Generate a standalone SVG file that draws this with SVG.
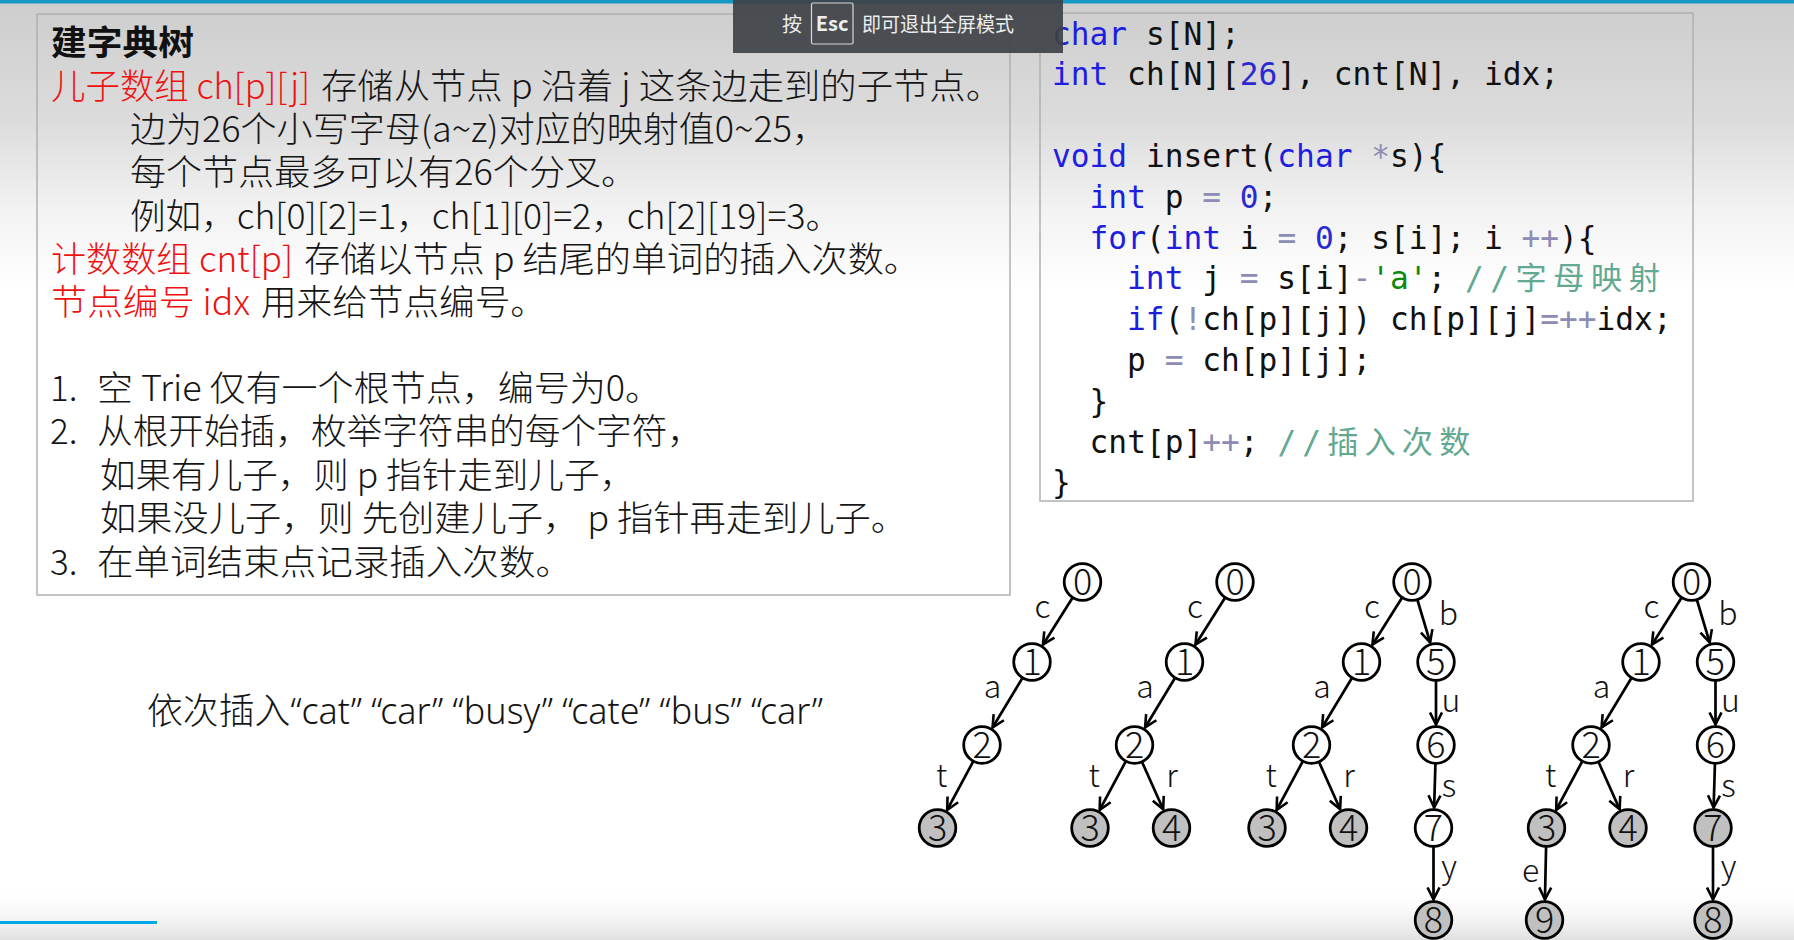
<svg xmlns="http://www.w3.org/2000/svg" width="1794" height="940" viewBox="0 0 1794 940">
<defs>
<linearGradient id="bgTop" x1="0" y1="0" x2="0" y2="290" gradientUnits="userSpaceOnUse">
<stop offset="0" stop-color="#cdcdcd"/><stop offset="0.42" stop-color="#dcdcdc"/><stop offset="0.72" stop-color="#f2f2f2"/><stop offset="1" stop-color="#ffffff"/>
</linearGradient>
<linearGradient id="bgBot" x1="0" y1="886" x2="0" y2="940" gradientUnits="userSpaceOnUse">
<stop offset="0" stop-color="#ffffff" stop-opacity="0"/><stop offset="1" stop-color="#e0e0e0"/>
</linearGradient>
<marker id="arr" viewBox="0 0 15 15" refX="13" refY="7.5" markerWidth="15" markerHeight="15" markerUnits="userSpaceOnUse" orient="auto">
<path d="M1,1.5 L13,7.5 L1,13.5" fill="none" stroke="#000" stroke-width="2.6"/>
</marker>
</defs>
<style>
.cn{font-family:"Noto Sans CJK SC","Noto Sans",sans-serif;font-size:35px;fill:#151515;font-weight:300}
.ttl{font-family:"Noto Sans CJK SC",sans-serif;font-size:34px;fill:#111;font-weight:700}
.red{fill:#ee1111}
.q{font-family:"Noto Sans","Noto Sans CJK SC",sans-serif;font-size:36px;fill:#151515;font-weight:300}
.code{font-family:"DejaVu Sans Mono",monospace;font-size:31.2px;fill:#111}
.kw{fill:#1e1ee0}.num{fill:#2a2ad0}.op{fill:#8c8cb4}.str{fill:#0a8a0a}
.cm{font-family:"DejaVu Sans Mono","Noto Sans CJK SC",monospace;font-size:31.2px;fill:#63a890}
.box{fill:none;stroke:#b0b0b0;stroke-width:1.5}
.nd circle{stroke:#000;stroke-width:2.8;fill:#fff}
.nd.leaf circle{fill:#c0c0c0}
.nd text{font-family:"Noto Sans CJK SC",sans-serif;font-size:36px;text-anchor:middle;fill:#111;font-weight:300}
.edge{stroke:#000;stroke-width:2.7;fill:none;marker-end:url(#arr)}
.lbl{font-family:"Noto Sans CJK SC",sans-serif;font-size:32px;text-anchor:middle;fill:#111;font-weight:300}
.esc{font-family:"Noto Sans CJK SC",sans-serif;font-size:20px;fill:#eeeeee}
</style>

<rect x="0" y="0" width="1794" height="940" fill="#ffffff"/>
<rect x="0" y="0" width="1794" height="290" fill="url(#bgTop)"/>
<rect x="0" y="886" width="1794" height="54" fill="url(#bgBot)"/>
<rect x="0" y="0" width="1794" height="3.5" fill="#159ac6"/>
<rect x="0" y="921" width="157" height="3" fill="#00a8e6"/>
<rect x="157" y="921" width="170" height="3" fill="#f0f0f0"/>

<g id="textbox">
<rect class="box" x="37" y="14" width="973" height="581"/>
<text class="ttl" x="51" y="55" textLength="143" lengthAdjust="spacingAndGlyphs">建字典树</text>
<text class="cn red" x="51" y="98.5" textLength="259" lengthAdjust="spacingAndGlyphs">儿子数组 ch[p][j]</text>
<text class="cn" x="321" y="98.5" textLength="681" lengthAdjust="spacingAndGlyphs">存储从节点 p 沿着 j 这条边走到的子节点。</text>
<text class="cn" x="130" y="141.5" textLength="698" lengthAdjust="spacingAndGlyphs">边为26个小写字母(a~z)对应的映射值0~25，</text>
<text class="cn" x="130" y="185" textLength="507" lengthAdjust="spacingAndGlyphs">每个节点最多可以有26个分叉。</text>
<text class="cn" x="130" y="228.5" textLength="711" lengthAdjust="spacingAndGlyphs">例如，ch[0][2]=1，ch[1][0]=2，ch[2][19]=3。</text>
<text class="cn red" x="51" y="272" textLength="242" lengthAdjust="spacingAndGlyphs">计数数组 cnt[p]</text>
<text class="cn" x="304" y="272" textLength="616" lengthAdjust="spacingAndGlyphs">存储以节点 p 结尾的单词的插入次数。</text>
<text class="cn red" x="51" y="315" textLength="199" lengthAdjust="spacingAndGlyphs">节点编号 idx</text>
<text class="cn" x="261" y="315" textLength="285" lengthAdjust="spacingAndGlyphs">用来给节点编号。</text>
<text class="cn" x="50" y="400.5">1.</text>
<text class="cn" x="97" y="400.5" textLength="564" lengthAdjust="spacingAndGlyphs">空 Trie 仅有一个根节点，编号为0。</text>
<text class="cn" x="50" y="444">2.</text>
<text class="cn" x="97" y="444" textLength="606" lengthAdjust="spacingAndGlyphs">从根开始插，枚举字符串的每个字符，</text>
<text class="cn" x="100" y="487.5" textLength="535" lengthAdjust="spacingAndGlyphs">如果有儿子，则 p 指针走到儿子，</text>
<text class="cn" x="100" y="531" textLength="807" lengthAdjust="spacingAndGlyphs">如果没儿子，则 先创建儿子， p 指针再走到儿子。</text>
<text class="cn" x="50" y="574.5">3.</text>
<text class="cn" x="97" y="574.5" textLength="475" lengthAdjust="spacingAndGlyphs">在单词结束点记录插入次数。</text>
</g>

<g id="codebox">
<rect class="box" x="1040" y="13" width="653" height="488"/>
<text class="code" x="1052" y="44.5"><tspan class="kw">char</tspan> s[N];</text>
<text class="code" x="1052" y="85.3"><tspan class="kw">int</tspan> ch[N][<tspan class="num">26</tspan>], cnt[N], idx;</text>
<text class="code" x="1052" y="166.9"><tspan class="kw">void</tspan> insert(<tspan class="kw">char</tspan> <tspan class="op">*</tspan>s){</text>
<text class="code" x="1089.6" y="207.7"><tspan class="kw">int</tspan> p <tspan class="op">=</tspan> <tspan class="num">0</tspan>;</text>
<text class="code" x="1089.6" y="248.5"><tspan class="kw">for</tspan>(<tspan class="kw">int</tspan> i <tspan class="op">=</tspan> <tspan class="num">0</tspan>; s[i]; i <tspan class="op">++</tspan>){</text>
<text class="code" x="1127.1" y="289.3"><tspan class="kw">int</tspan> j <tspan class="op">=</tspan> s[i]<tspan class="op">-</tspan><tspan class="str">'a'</tspan>;</text>
<text class="cm" x="1465" y="289.3" textLength="195">//字母映射</text>
<text class="code" x="1127.1" y="330.1"><tspan class="kw">if</tspan>(<tspan class="op">!</tspan>ch[p][j]) ch[p][j]<tspan class="op">=++</tspan>idx;</text>
<text class="code" x="1127.1" y="370.9">p <tspan class="op">=</tspan> ch[p][j];</text>
<text class="code" x="1089.6" y="411.7">}</text>
<text class="code" x="1089.6" y="452.5">cnt[p]<tspan class="op">++</tspan>;</text>
<text class="cm" x="1277.4" y="452.5" textLength="193">//插入次数</text>
<text class="code" x="1052" y="493.3">}</text>
</g>

<g id="caption">
<text class="q" x="147" y="723.5" textLength="676" lengthAdjust="spacingAndGlyphs">依次插入“cat” “car” “busy” “cate” “bus” “car”</text>
</g>

<g id="connectors">
<g transform="translate(1082.5,0)">
<line class="edge" x1="-9.8" y1="597.5" x2="-39.55" y2="644.66"/>
<line class="edge" x1="-59.9" y1="677.7" x2="-89.92" y2="727.43"/>
<line class="edge" x1="-109.1" y1="761.1" x2="-135.32" y2="809.94"/>
<text class="lbl" x="-40" y="618">c</text><text class="lbl" x="-90" y="698">a</text><text class="lbl" x="-141" y="787">t</text>
</g>
<g transform="translate(1235,0)">
<line class="edge" x1="-9.8" y1="597.5" x2="-39.55" y2="644.66"/>
<line class="edge" x1="-59.9" y1="677.7" x2="-89.92" y2="727.43"/>
<line class="edge" x1="-109.1" y1="761.1" x2="-135.32" y2="809.94"/>
<line class="edge" x1="-93.1" y1="761.7" x2="-71.84" y2="809.28"/>
<text class="lbl" x="-40" y="618">c</text><text class="lbl" x="-90" y="698">a</text><text class="lbl" x="-141" y="787">t</text><text class="lbl" x="-63" y="787">r</text>
</g>
<g transform="translate(1412,0)">
<line class="edge" x1="-9.8" y1="597.5" x2="-39.55" y2="644.66"/>
<line class="edge" x1="5.3" y1="599.5" x2="18.12" y2="642.36"/>
<line class="edge" x1="-59.9" y1="677.7" x2="-89.92" y2="727.43"/>
<line class="edge" x1="24" y1="680.3" x2="24" y2="724.5"/>
<line class="edge" x1="-109.1" y1="761.1" x2="-135.32" y2="809.94"/>
<line class="edge" x1="-93.1" y1="761.7" x2="-71.84" y2="809.28"/>
<line class="edge" x1="23.45" y1="763.3" x2="22.12" y2="807.5"/>
<line class="edge" x1="21.5" y1="846.3" x2="21.5" y2="899.5"/>
<text class="lbl" x="-40" y="618">c</text><text class="lbl" x="36.5" y="625">b</text><text class="lbl" x="-90" y="698">a</text><text class="lbl" x="39" y="712">u</text>
<text class="lbl" x="-141" y="787">t</text><text class="lbl" x="-63" y="787">r</text><text class="lbl" x="37" y="797">s</text><text class="lbl" x="37" y="878">y</text>
</g>
<g transform="translate(1691.5,0)">
<line class="edge" x1="-9.8" y1="597.5" x2="-39.55" y2="644.66"/>
<line class="edge" x1="5.3" y1="599.5" x2="18.12" y2="642.36"/>
<line class="edge" x1="-59.9" y1="677.7" x2="-89.92" y2="727.43"/>
<line class="edge" x1="24" y1="680.3" x2="24" y2="724.5"/>
<line class="edge" x1="-109.1" y1="761.1" x2="-135.32" y2="809.94"/>
<line class="edge" x1="-93.1" y1="761.7" x2="-71.84" y2="809.28"/>
<line class="edge" x1="23.45" y1="763.3" x2="22.12" y2="807.5"/>
<line class="edge" x1="21.5" y1="846.3" x2="21.5" y2="899.5"/>
<line class="edge" x1="-145.4" y1="846.3" x2="-146.56" y2="899.5"/>
<text class="lbl" x="-40" y="618">c</text><text class="lbl" x="36.5" y="625">b</text><text class="lbl" x="-90" y="698">a</text><text class="lbl" x="39" y="712">u</text>
<text class="lbl" x="-141" y="787">t</text><text class="lbl" x="-63" y="787">r</text><text class="lbl" x="37" y="797">s</text><text class="lbl" x="37" y="878">y</text><text class="lbl" x="-161" y="882">e</text>
</g>
</g>

<g id="tree1" transform="translate(1082.5,0)">
<g id="t1-n0" class="nd"><circle cx="0" cy="582" r="18.3"/><text x="0" y="595">0</text></g>
<g id="t1-n1" class="nd"><circle cx="-50.5" cy="662" r="18.3"/><text x="-50.5" y="675">1</text></g>
<g id="t1-n2" class="nd"><circle cx="-100.5" cy="745" r="18.3"/><text x="-100.5" y="758">2</text></g>
<g id="t1-n3" class="nd leaf"><circle cx="-145" cy="828" r="18.3"/><text x="-145" y="841">3</text></g>
</g>
<g id="tree2" transform="translate(1235,0)">
<g id="t2-n0" class="nd"><circle cx="0" cy="582" r="18.3"/><text x="0" y="595">0</text></g>
<g id="t2-n1" class="nd"><circle cx="-50.5" cy="662" r="18.3"/><text x="-50.5" y="675">1</text></g>
<g id="t2-n2" class="nd"><circle cx="-100.5" cy="745" r="18.3"/><text x="-100.5" y="758">2</text></g>
<g id="t2-n3" class="nd leaf"><circle cx="-145" cy="828" r="18.3"/><text x="-145" y="841">3</text></g>
<g id="t2-n4" class="nd leaf"><circle cx="-63.5" cy="828" r="18.3"/><text x="-63.5" y="841">4</text></g>
</g>
<g id="tree3" transform="translate(1412,0)">
<g id="t3-n0" class="nd"><circle cx="0" cy="582" r="18.3"/><text x="0" y="595">0</text></g>
<g id="t3-n1" class="nd"><circle cx="-50.5" cy="662" r="18.3"/><text x="-50.5" y="675">1</text></g>
<g id="t3-n2" class="nd"><circle cx="-100.5" cy="745" r="18.3"/><text x="-100.5" y="758">2</text></g>
<g id="t3-n3" class="nd leaf"><circle cx="-145" cy="828" r="18.3"/><text x="-145" y="841">3</text></g>
<g id="t3-n4" class="nd leaf"><circle cx="-63.5" cy="828" r="18.3"/><text x="-63.5" y="841">4</text></g>
<g id="t3-n5" class="nd"><circle cx="24" cy="662" r="18.3"/><text x="24" y="675">5</text></g>
<g id="t3-n6" class="nd"><circle cx="24" cy="745" r="18.3"/><text x="24" y="758">6</text></g>
<g id="t3-n7" class="nd"><circle cx="21.5" cy="828" r="18.3"/><text x="21.5" y="841">7</text></g>
<g id="t3-n8" class="nd leaf"><circle cx="21.5" cy="920" r="18.3"/><text x="21.5" y="933">8</text></g>
</g>
<g id="tree4" transform="translate(1691.5,0)">
<g id="t4-n0" class="nd"><circle cx="0" cy="582" r="18.3"/><text x="0" y="595">0</text></g>
<g id="t4-n1" class="nd"><circle cx="-50.5" cy="662" r="18.3"/><text x="-50.5" y="675">1</text></g>
<g id="t4-n2" class="nd"><circle cx="-100.5" cy="745" r="18.3"/><text x="-100.5" y="758">2</text></g>
<g id="t4-n3" class="nd leaf"><circle cx="-145" cy="828" r="18.3"/><text x="-145" y="841">3</text></g>
<g id="t4-n4" class="nd leaf"><circle cx="-63.5" cy="828" r="18.3"/><text x="-63.5" y="841">4</text></g>
<g id="t4-n9" class="nd leaf"><circle cx="-147" cy="920" r="18.3"/><text x="-147" y="933">9</text></g>
<g id="t4-n5" class="nd"><circle cx="24" cy="662" r="18.3"/><text x="24" y="675">5</text></g>
<g id="t4-n6" class="nd"><circle cx="24" cy="745" r="18.3"/><text x="24" y="758">6</text></g>
<g id="t4-n7" class="nd leaf"><circle cx="21.5" cy="828" r="18.3"/><text x="21.5" y="841">7</text></g>
<g id="t4-n8" class="nd leaf"><circle cx="21.5" cy="920" r="18.3"/><text x="21.5" y="933">8</text></g>
</g>

<g id="esc-overlay">
<rect x="733" y="0" width="330" height="53" fill="#3e4147" fill-opacity="0.92"/>
<text class="esc" x="782" y="32">按</text>
<rect x="811.5" y="3" width="41.5" height="41" fill="none" stroke="#d8d8d8" stroke-width="1.2" rx="1.5"/>
<text class="esc" x="832.2" y="31" text-anchor="middle" font-weight="700" font-size="19">Esc</text>
<text class="esc" x="862" y="32" textLength="152" lengthAdjust="spacingAndGlyphs">即可退出全屏模式</text>
</g>
</svg>
